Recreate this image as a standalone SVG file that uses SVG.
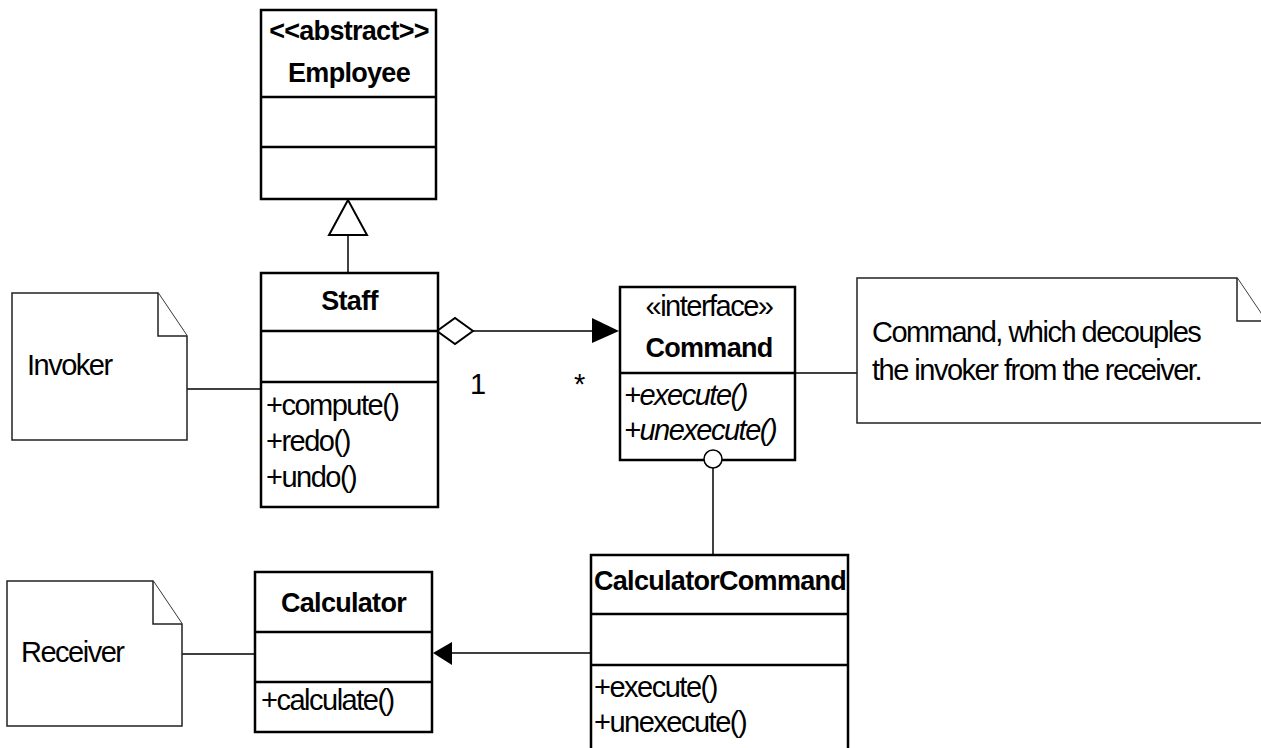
<svg xmlns="http://www.w3.org/2000/svg" width="1261" height="748" viewBox="0 0 1261 748">
  <style>
    text { font-family: "Liberation Sans", Arial, sans-serif; font-size: 29px; letter-spacing: -1.5px; fill: #000; }
    .b { font-weight: bold; font-size: 27px; letter-spacing: -0.7px; }
    .i { font-style: italic; }
    .mid { text-anchor: middle; }
    .box { fill: #fff; stroke: #000; stroke-width: 2.5; }
    .div { stroke: #000; stroke-width: 2.5; fill: none; }
    .note { fill: #fff; stroke: #222; stroke-width: 1.5; }
    .conn { stroke: #000; stroke-width: 1.5; fill: none; }
  </style>
  <rect x="0" y="0" width="1261" height="748" fill="#fff"/>

  <g id="connectors">
    <!-- generalization Staff -> Employee -->
    <line class="conn" x1="348" y1="235" x2="348" y2="273"/>
    <polygon points="348,200 329,235 367,235" fill="#fff" stroke="#000" stroke-width="2"/>
    <!-- Invoker note link -->
    <line class="conn" x1="187" y1="389" x2="261" y2="389"/>
    <!-- aggregation Staff -> Command -->
    <line class="conn" x1="473" y1="331" x2="594" y2="331"/>
    <polygon points="437,331 455,318 473,331 455,344" fill="#fff" stroke="#000" stroke-width="2"/>
    <polygon points="619,331 592,318 592,343" fill="#000"/>
    <text x="470" y="394">1</text>
    <text x="574" y="394">*</text>
    <!-- Command note link -->
    <line class="conn" x1="795" y1="373" x2="857" y2="373"/>
    <!-- realization CalculatorCommand -> Command (lollipop) -->
    <line class="conn" x1="713" y1="468" x2="713" y2="555"/>
    <!-- association CalculatorCommand -> Calculator -->
    <line class="conn" x1="450" y1="653" x2="591" y2="653"/>
    <polygon points="433,653 452,642 452,665" fill="#000"/>
    <!-- Receiver note link -->
    <line class="conn" x1="178" y1="654" x2="255" y2="654"/>
  </g>

  <g id="employee">
    <rect class="box" x="261" y="10" width="175" height="189"/>
    <line class="div" x1="261" y1="97" x2="436" y2="97"/>
    <line class="div" x1="261" y1="147" x2="436" y2="147"/>
    <text class="b mid" x="349" y="40">&lt;&lt;abstract&gt;&gt;</text>
    <text class="b mid" x="349" y="82">Employee</text>
  </g>

  <g id="staff">
    <rect class="box" x="261" y="273" width="177" height="234"/>
    <line class="div" x1="261" y1="331" x2="438" y2="331"/>
    <line class="div" x1="261" y1="382" x2="438" y2="382"/>
    <text class="b mid" x="349.5" y="310">Staff</text>
    <text x="266" y="415">+compute()</text>
    <text x="266" y="451">+redo()</text>
    <text x="266" y="487">+undo()</text>
  </g>

  <g id="invoker-note">
    <path class="note" d="M12,293 L158,293 L187,336 L187,440 L12,440 Z"/>
    <path class="note" d="M158,293 L158,336 L187,336" fill="none"/>
    <text x="27" y="375">Invoker</text>
  </g>

  <g id="command">
    <rect class="box" x="620" y="287" width="175" height="173"/>
    <line class="div" x1="620" y1="373" x2="795" y2="373"/>
    <text class="mid" x="709" y="316">«interface»</text>
    <text class="b mid" x="709" y="357">Command</text>
    <text class="i" x="624" y="405">+execute()</text>
    <text class="i" x="624" y="440">+unexecute()</text>
    <circle cx="713" cy="459" r="9" fill="#fff" stroke="#000" stroke-width="1.5"/>
  </g>

  <g id="command-note">
    <path class="note" d="M857,278 L1237,278 L1266,321 L1266,423 L857,423 Z"/>
    <path class="note" d="M1237,278 L1237,321 L1266,321" fill="none"/>
    <text x="872" y="342">Command, which decouples</text>
    <text x="872" y="380">the invoker from the receiver.</text>
  </g>

  <g id="calculator-command">
    <rect class="box" x="591" y="555" width="257" height="210"/>
    <line class="div" x1="591" y1="614" x2="848" y2="614"/>
    <line class="div" x1="591" y1="665" x2="848" y2="665"/>
    <text class="b" x="594" y="590">CalculatorCommand</text>
    <text x="594" y="697">+execute()</text>
    <text x="594" y="732">+unexecute()</text>
  </g>

  <g id="calculator">
    <rect class="box" x="255" y="572" width="177" height="160"/>
    <line class="div" x1="255" y1="632" x2="432" y2="632"/>
    <line class="div" x1="255" y1="682" x2="432" y2="682"/>
    <text class="b mid" x="343.5" y="612">Calculator</text>
    <text x="261" y="710">+calculate()</text>
  </g>

  <g id="receiver-note">
    <path class="note" d="M7,581 L153,581 L182,624 L182,726 L7,726 Z"/>
    <path class="note" d="M153,581 L153,624 L182,624" fill="none"/>
    <text x="21" y="662">Receiver</text>
  </g>
</svg>
